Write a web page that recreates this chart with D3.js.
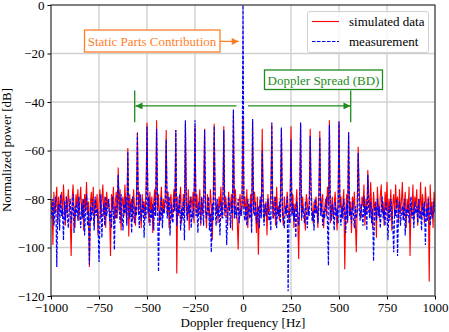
<!DOCTYPE html>
<html>
<head>
<meta charset="utf-8">
<script src="https://cdn.jsdelivr.net/npm/d3@7"></script>
<style>
body{margin:0;background:#fff}
</style>
</head>
<body>
<svg id="chart" width="449" height="332" font-family="Liberation Serif"></svg>
<script>
// sample grid [Hz], one value every 5 Hz
var freqs = d3.range(-1000, 1001, 5);

// noise floor, -1000 .. 1000 Hz, 20 values per 100 Hz
var simNoise = [
	-84,-80,-99,-77,-86,-82,-75,-90,-79,-85,-81,-77,-88,-74,-83,-91,-79,-86,-76,-82,
	-88,-103.5,-80,-74,-85,-92,-78,-83,-76,-89,-81,-75,-87,-80,-93,-78,-84,-73,-86,-81,
	-108,-82,-77,-86,-75,-91,-80,-84,-78,-95,-82,-76,-88,-81,-74,-87,-79,-92,-77,-83,
	-80,-86,-103.5,-78,-84,-75,-90,-81,-77,-88,-80,-85,-76,-93,-82,-79,-87,-74,-84,-90,
	-80,-95.5,-78,-85,-80,-89,-76,-83,-91,-79,-80,-86,-77,-84,-92,-78,-85,-81,-88,-75,
	-80,-83,-90,-77,-86,-79,-94,-81,-76,-87,-80,-84,-78,-91,-82,-75,-88,-80,-85,-79,
	-80,-86,-77,-92,-81,-78,-89,-83,-76,-85,-80,-110.7,-79,-87,-82,-75,-90,-84,-78,-86,
	-80,-82,-88,-76,-93,-81,-79,-85,-77,-90,-80,-84,-78,-87,-83,-76,-91,-80,-86,-79,
	-80,-85,-92,-78,-84,-88,-76,-83,-97,-80,-80,-77,-86,-82,-90,-79,-84,-75,-88,-81,
	-80,-87,-79,-84,-91,-77,-85,-82,-78,-93,-80,-86,-76,-84,-89,-100.8,-81,-78,-87,-83,
	-80,-84,-79,-88,-76,-92,-82,-85,-78,-90,-80,-86,-77,-83,-94,-79,-103,-84,-80,-87,
	-80,-76,-89,-83,-81,-95,-78,-86,-84,-77,-80,-88,-82,-79,-91,-75,-85,-83,-89,-78,
	-80,-85,-91,-79,-84,-87,-77,-83,-90,-81,-80,-86,-78,-92,-82,-85,-76,-88,-104.7,-81,
	-80,-89,-79,-84,-86,-93,-78,-82,-87,-80,-80,-77,-84,-90,-81,-86,-79,-83,-92,-78,
	-80,-86,-81,-78,-92,-84,-80,-87,-75,-83,-80,-90,-85,-79,-88,-82,-77,-86,-93,-80,
	-80,-84,-79,-88,-82,-76,-109,-85,-78,-90,-80,-87,-81,-94,-79,-84,-77,-89,-102,-83,
	-80,-76,-85,-88,-79,-83,-74,-91,-80,-86,-80,-78,-87,-73,-84,-92,-77,-85,-81,-96,
	-75,-83,-88,-79,-74,-86,-81,-91,-77,-84,-73,-89,-80,-85,-76,-93,-82,-78,-87,-74,
	-84,-79,-90,-76,-86,-81,-73,-88,-83,-77,-92,-80,-85,-75,-103.5,-82,-87,-74,-89,-79,
	-83,-76,-91,-80,-85,-73,-88,-78,-84,-90,-75,-82,-87,-79,-114,-74,-86,-81,-92,-77,
	-82
];
var measNoise = [
	-83,-88,-80,-91,-85,-79,-108,-86,-82,-93,-78,-87,-84,-97,-81,-89,-79,-86,-92,-83,
	-80,-90,-85,-78,-94,-83,-87,-81,-89,-79,-86,-92,-82,-88,-80,-95,-84,-78,-91,-85,
	-107,-83,-89,-80,-86,-93,-79,-87,-84,-90,-106,-88,-78,-96,-85,-82,-91,-79,-87,-84,
	-80,-89,-85,-92,-79,-86,-101,-83,-88,-81,-80,-84,-90,-78,-87,-93,-82,-86,-79,-91,
	-80,-85,-88,-82,-94,-79,-86,-90,-83,-87,-80,-84,-92,-78,-89,-85,-81,-96,-83,-88,
	-80,-86,-79,-91,-84,-88,-82,-93,-80,-87,-80,-83,-110,-85,-89,-79,-92,-84,-86,-81,
	-80,-88,-84,-79,-95,-82,-87,-90,-80,-85,-80,-91,-83,-86,-78,-93,-84,-88,-81,-97,
	-80,-84,-89,-82,-86,-79,-92,-85,-88,-80,-80,-87,-83,-94,-81,-86,-90,-79,-85,-91,
	-80,-83,-88,-85,-79,-93,-86,-102,-82,-89,-80,-84,-91,-80,-87,-83,-95,-81,-86,-88,
	-80,-85,-82,-99,-87,-79,-84,-92,-81,-86,-80,-88,-83,-88,-85,-80,-90,-84,-87,-82,
	-80,-86,-89,-83,-91,-80,-85,-88,-82,-94,-80,-84,-87,-81,-90,-86,-83,-92,-79,-88,
	-80,-85,-91,-82,-87,-84,-80,-89,-86,-93,-80,-83,-88,-85,-79,-92,-84,-87,-81,-90,
	-80,-84,-88,-92,-83,-86,-79,-118,-85,-90,-80,-87,-82,-89,-84,-96,-81,-86,-91,-83,
	-80,-88,-83,-86,-90,-81,-85,-92,-84,-87,-80,-82,-89,-85,-93,-80,-86,-83,-90,-84,
	-80,-87,-82,-91,-85,-88,-83,-79,-90,-107.4,-80,-84,-89,-82,-86,-93,-81,-87,-84,-90,
	-80,-85,-91,-83,-88,-80,-86,-94,-82,-89,-80,-87,-84,-90,-81,-86,-92,-83,-88,-85,
	-80,-84,-89,-82,-86,-91,-79,-87,-83,-93,-80,-85,-88,-81,-90,-84,-105.6,-86,-82,-89,
	-80,-87,-83,-92,-85,-79,-88,-84,-91,-81,-86,-97,-83,-89,-80,-85,-90,-102,-84,-87,
	-80,-103.5,-85,-81,-91,-86,-83,-89,-80,-95,-84,-87,-82,-90,-85,-79,-88,-84,-92,-81,
	-86,-83,-90,-80,-88,-85,-93,-82,-87,-81,-99,-84,-89,-80,-86,-91,-83,-88,-85,-81,
	-86
];

// discrete doppler lines every 50 Hz
var peakFreqs = [-650,-600,-550,-500,-450,-400,-350,-300,-250,-200,-150,-100,-50,0,
	50,100,150,200,250,300,350,400,450,500,550,600,650];
var simPeaks = [-67,-59,-52.5,-48.5,-47.5,-51.5,-51.5,-49,-50,-51,-49,-50,-44.5,-47,
	-48,-51,-49,-51,-50,-49.5,-51,-52,-47.5,-48,-52.5,-58.5,-68];
var measPeaks = [-70,-60.5,-53,-50,-51,-55.5,-51.5,-47.5,-47.5,-51.5,-50,-51.5,-43,0,
	-47,-60,-48.5,-50.5,-55.5,-48.5,-54,-54.5,-49.5,-48,-52.5,-61,-70];

var xTicks = [-1000,-750,-500,-250,0,250,500,750,1000];
var yTicks = [-120,-100,-80,-60,-40,-20,0];

var svg = d3.select("#chart");
var x = d3.scaleLinear().domain([-1000,1000]).range([51,435]);
var y = d3.scaleLinear().domain([-120,0]).range([296,5]);
var serif = "Liberation Serif";

function minus(d){ return String(d).replace("-","\u2212") };

// merge noise and lines
function buildseries(noise, peaks){
	return freqs.map(function(f,i){
		var k = peakFreqs.indexOf(f);
		return {f:f, v: k>=0 ? peaks[k] : noise[i]};
	});
};
var simData = buildseries(simNoise, simPeaks);
var measData = buildseries(measNoise, measPeaks);

svg.append("defs").append("clipPath").attr("id","clip")
	.append("rect").attr("x",51).attr("y",5).attr("width",384).attr("height",291);

// grid
var grid = svg.append("g").attr("stroke","#d0d0d0").attr("stroke-width",1.4);
grid.selectAll(".vg").data(xTicks).enter().append("line")
	.attr("x1",function(d){return x(d)}).attr("x2",function(d){return x(d)})
	.attr("y1",5).attr("y2",296);
grid.selectAll(".hg").data(yTicks).enter().append("line")
	.attr("y1",function(d){return y(d)}).attr("y2",function(d){return y(d)})
	.attr("x1",51).attr("x2",435);

var line = d3.line()
	.defined(function(d){return d.v!=null})
	.x(function(d){return x(d.f)}).y(function(d){return y(d.v)});

var plot = svg.append("g").attr("clip-path","url(#clip)");
plot.append("path").datum(simData)
	.attr("d",line).attr("fill","none")
	.attr("stroke","#ff0000").attr("stroke-width",1.1);
plot.append("path").datum(measData)
	.attr("d",line).attr("fill","none")
	.attr("stroke","#0000ff").attr("stroke-width",1.2)
	.attr("stroke-dasharray","3.5,1.5");

// axes
var xaxis = svg.append("g").attr("transform","translate(0,296)")
	.call(d3.axisBottom(x).tickValues(xTicks).tickSize(3.5).tickPadding(3).tickFormat(minus));
var yaxis = svg.append("g").attr("transform","translate(51,0)")
	.call(d3.axisLeft(y).tickValues(yTicks).tickSize(3.5).tickPadding(3).tickFormat(minus));
[xaxis,yaxis].forEach(function(a){
	a.attr("font-family",serif).attr("font-size",13);
	a.select(".domain").remove();
	a.selectAll("text").attr("fill","#000");
	a.selectAll("line").attr("stroke","#000");
});

svg.append("rect").attr("x",51).attr("y",5).attr("width",384).attr("height",291)
	.attr("fill","none").attr("stroke","#222").attr("stroke-width",1);

svg.append("text").attr("x",243).attr("y",327).attr("text-anchor","middle")
	.attr("font-family",serif).attr("font-size",13).text("Doppler frequency [Hz]");
svg.append("text").attr("transform","translate(11,150) rotate(-90)")
	.attr("text-anchor","middle").attr("font-family",serif).attr("font-size",13)
	.text("Normalized power [dB]");

// arrow markers
var defs = svg.select("defs");
function arrowmarker(id, color){
	defs.append("marker")
		.attr("id",id)
		.attr("viewBox","0 -5 10 10")
		.attr("refX",10).attr("refY",0)
		.attr("orient","auto")
		.attr("markerWidth",9).attr("markerHeight",7)
		.attr("markerUnits","userSpaceOnUse")
		.append("path").attr("d","M 0,-5 L 10,0 L 0,5 Z").attr("fill",color);
};
var orange = "#ff7f2a", green = "#1e8c1e";
arrowmarker("arrOrange", orange);
arrowmarker("arrGreen", green);

// static part annotation
svg.append("line").attr("x1",x(-120)).attr("y1",y(-15)).attr("x2",x(-22)).attr("y2",y(-15))
	.attr("stroke",orange).attr("stroke-width",1.3).attr("marker-end","url(#arrOrange)");
svg.append("rect").attr("x",84.5).attr("y",30).attr("width",135.5).attr("height",22)
	.attr("fill","#fff").attr("stroke",orange).attr("stroke-width",1.3);
svg.append("text").attr("x",152).attr("y",45.5).attr("text-anchor","middle")
	.attr("font-family",serif).attr("font-size",13).attr("fill",orange)
	.text("Static Parts Contribution");

// doppler spread annotation
var bdY = -41.6;
svg.append("line").attr("x1",x(-34)).attr("y1",y(bdY)).attr("x2",x(-560)).attr("y2",y(bdY))
	.attr("stroke",green).attr("stroke-width",1.3).attr("marker-end","url(#arrGreen)");
svg.append("line").attr("x1",x(26)).attr("y1",y(bdY)).attr("x2",x(560)).attr("y2",y(bdY))
	.attr("stroke",green).attr("stroke-width",1.3).attr("marker-end","url(#arrGreen)");
[-564,561].forEach(function(f){
	svg.append("line").attr("x1",x(f)).attr("x2",x(f)).attr("y1",y(-35.3)).attr("y2",y(-48.4))
		.attr("stroke",green).attr("stroke-width",1.3);
});
svg.append("rect").attr("x",264.5).attr("y",70).attr("width",118).attr("height",19.5)
	.attr("fill","#fff").attr("stroke",green).attr("stroke-width",1.3);
svg.append("text").attr("x",323.5).attr("y",84.5).attr("text-anchor","middle")
	.attr("font-family",serif).attr("font-size",13).attr("fill",green)
	.text("Doppler Spread (BD)");

// legend
var lg = svg.append("g").attr("font-family",serif).attr("font-size",13);
lg.append("rect").attr("x",307.5).attr("y",11.5).attr("width",121).attr("height",41).attr("rx",2.5)
	.attr("fill","#fff").attr("fill-opacity",0.8).attr("stroke","#d0d0d0").attr("stroke-width",1);
lg.append("line").attr("x1",312).attr("x2",339).attr("y1",21.5).attr("y2",21.5)
	.attr("stroke","#ff0000").attr("stroke-width",1.1);
lg.append("line").attr("x1",312).attr("x2",339).attr("y1",41.5).attr("y2",41.5)
	.attr("stroke","#0000ff").attr("stroke-width",1.2).attr("stroke-dasharray","3.5,1.5");
lg.append("text").attr("x",349).attr("y",26).text("simulated data");
lg.append("text").attr("x",349).attr("y",46).text("measurement");
</script>
</body>
</html>
